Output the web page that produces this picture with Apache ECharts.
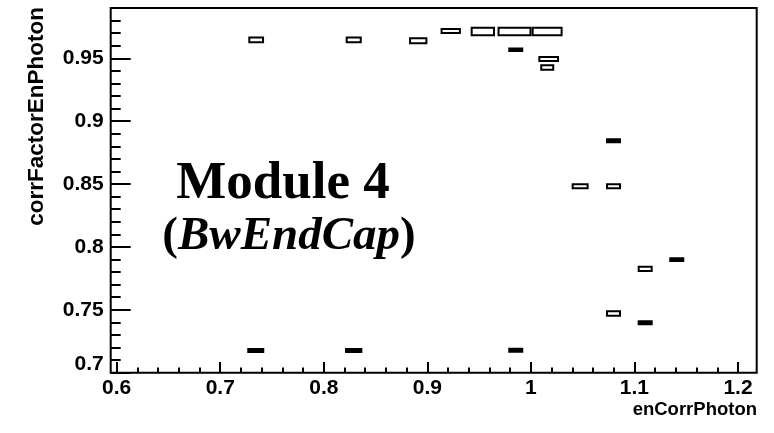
<!DOCTYPE html>
<html>
<head>
<meta charset="utf-8">
<script src="https://cdn.jsdelivr.net/npm/echarts@6/dist/echarts.min.js"></script>
<style>html,body{margin:0;padding:0;background:#fff;}#c{width:774px;height:433px;}</style>
</head>
<body>
<div id="c"></div>
<script>
// ---- data (box centres and box extents, in data units) ----
const xCenters = [0.7347, 0.8289, 0.8912, 0.9226, 0.9536, 0.9842, 1.0157, 0.9854, 1.0172, 1.0158, 1.0798, 1.0476, 1.0798, 1.1409, 1.1104, 1.0798, 1.1104, 0.7343, 0.8289, 0.9854];
const yCenters = [0.9646, 0.9646, 0.9639, 0.9717, 0.9713, 0.9713, 0.9713, 0.9568, 0.9494, 0.9427, 0.8844, 0.8482, 0.8482, 0.7899, 0.7826, 0.7471, 0.7397, 0.7177, 0.7177, 0.7179];
const boxWidths = [0.0152, 0.0155, 0.0177, 0.0196, 0.0235, 0.0328, 0.0299, 0.0145, 0.0200, 0.0135, 0.0145, 0.0164, 0.0145, 0.0145, 0.0145, 0.0145, 0.0145, 0.0164, 0.0167, 0.0145];
const boxHeights = [0.0053, 0.0053, 0.0056, 0.0046, 0.0077, 0.0077, 0.0076, 0.0036, 0.0048, 0.0051, 0.0040, 0.0048, 0.0048, 0.0037, 0.0050, 0.0051, 0.0040, 0.0040, 0.0040, 0.0040];
const xTitle = 'enCorrPhoton';
const yTitle = 'corrFactorEnPhoton';
const labelLine1 = 'Module 4';
const labelLine2 = 'BwEndCap';

const boxes = xCenters.map((x, i) => [x, yCenters[i], boxWidths[i], boxHeights[i]]);

const chart = echarts.init(document.getElementById('c'), null, {renderer: 'canvas'});
const fontFam = '"Liberation Sans", Arial, Helvetica, sans-serif';
const serif = '"Liberation Serif", "Times New Roman", serif';

const option = {
  animation: false,
  backgroundColor: '#fff',
  grid: [
    {left: 110.7, right: 17.3, top: 8, bottom: 60.3, show: true, borderColor: '#000', borderWidth: 2, backgroundColor: 'transparent', outerBoundsMode: 'none', containLabel: false},
    {left: 116.7, right: 36, top: 8, bottom: 60.3, outerBoundsMode: 'none', containLabel: false},
    {left: 110.7, right: 17.3, top: -4.6, bottom: 60.3, outerBoundsMode: 'none', containLabel: false}
  ],
  xAxis: [
    {gridIndex: 0, type: 'value', min: 0.5942, max: 1.2181, show: false},
    {gridIndex: 1, type: 'value', min: 0.6, max: 1.2, interval: 0.1,
      axisLine: {show: false},
      axisTick: {show: true, inside: true, length: 10.7, lineStyle: {color: '#000', width: 2}},
      minorTick: {show: true, splitNumber: 5, length: 5.3, lineStyle: {color: '#000', width: 2}},
      splitLine: {show: false}, minorSplitLine: {show: false},
      axisLabel: {show: true, margin: 5, color: '#000', fontFamily: fontFam, fontWeight: 'bold', fontSize: 21, showMinLabel: true, showMaxLabel: true, hideOverlap: false}
    },
    {gridIndex: 2, type: 'value', min: 0.5942, max: 1.2181, show: false}
  ],
  yAxis: [
    {gridIndex: 0, type: 'value', min: 0.7, max: 0.99, show: false},
    {gridIndex: 1, type: 'value', min: 0.7, max: 0.99, show: false},
    {gridIndex: 2, type: 'value', min: 0.7, max: 1.0, interval: 0.05,
      axisLine: {show: false},
      axisTick: {show: true, inside: true, length: 20, lineStyle: {color: '#000', width: 2}},
      minorTick: {show: true, splitNumber: 5, length: 10, lineStyle: {color: '#000', width: 2}},
      splitLine: {show: false}, minorSplitLine: {show: false},
      axisLabel: {show: true, margin: 7, color: '#000', fontFamily: fontFam, fontWeight: 'bold', fontSize: 21, showMinLabel: true, showMaxLabel: false, hideOverlap: false,
        formatter: function (v) {
          const s = String(Math.round(v * 100) / 100);
          return Math.abs(v - 0.7) < 1e-9 ? '{lo|' + s + '}' : s;
        },
        rich: {lo: {fontFamily: fontFam, fontWeight: 'bold', fontSize: 21, color: '#000', padding: [0, 0, 16, 0]}}
      }
    }
  ],
  series: [{
    type: 'custom',
    xAxisIndex: 0, yAxisIndex: 0,
    data: boxes,
    clip: true,
    renderItem: function (params, api) {
      const xc = api.value(0), yc = api.value(1), w = api.value(2), h = api.value(3);
      const p0 = api.coord([xc - w / 2, yc + h / 2]);
      const p1 = api.coord([xc + w / 2, yc - h / 2]);
      const width = p1[0] - p0[0];
      const height = p1[1] - p0[1];
      const small = height < 5.4;
      return {
        type: 'rect',
        shape: {x: p0[0] + 1, y: p0[1] + 1, width: width - 2, height: height - 2},
        style: {fill: small ? '#000' : '#fff', stroke: '#000', lineWidth: 2}
      };
    }
  }],
  graphic: [
    {type: 'text', x: 757, y: 410, style: {text: xTitle, align: 'right', verticalAlign: 'middle', fill: '#000', font: 'bold 18.5px ' + fontFam}},
    {type: 'text', x: 37, y: 7, rotation: Math.PI / 2, style: {text: yTitle, align: 'right', verticalAlign: 'middle', fill: '#000', font: 'bold 22.5px ' + fontFam}},
    {type: 'text', x: 283, y: 184, style: {text: labelLine1, align: 'center', verticalAlign: 'middle', fill: '#000', font: 'bold 53px ' + serif}},
    {type: 'text', x: 289, y: 237, style: {
      text: '{p|(}{i|' + labelLine2 + '}{p|)}', align: 'center', verticalAlign: 'middle',
      rich: {
        p: {fontFamily: serif, fontWeight: 'bold', fontSize: 47, fill: '#000'},
        i: {fontFamily: serif, fontWeight: 'bold', fontStyle: 'italic', fontSize: 47, fill: '#000'}
      }
    }}
  ]
};
chart.setOption(option);
</script>
</body>
</html>
